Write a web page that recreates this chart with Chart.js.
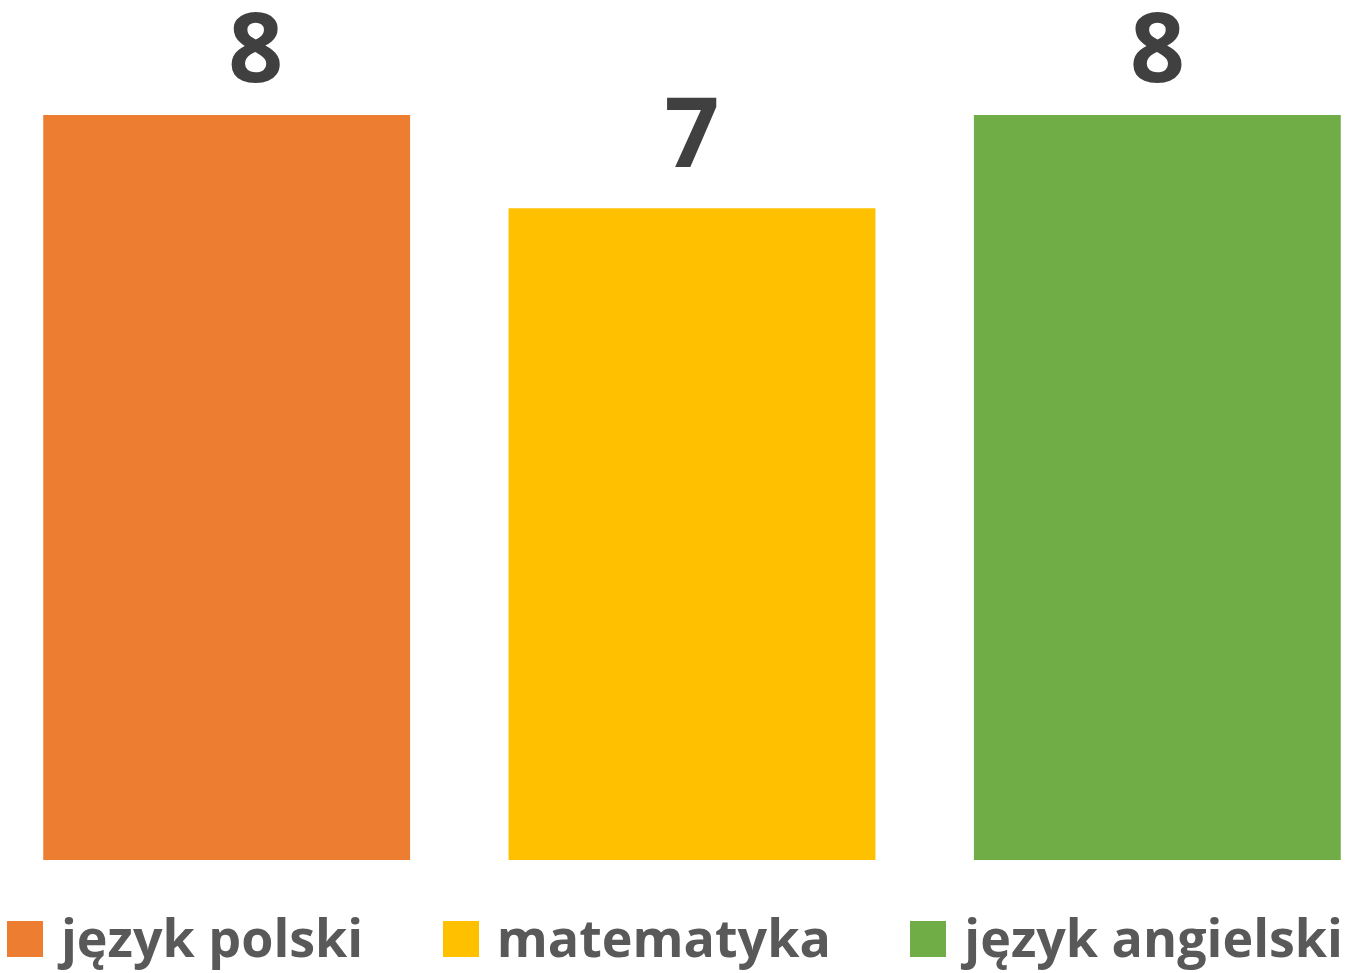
<!DOCTYPE html>
<html>
<head>
<meta charset="utf-8">
<script src="https://cdn.jsdelivr.net/npm/chart.js@4"></script>
<style>
  html, body { margin: 0; padding: 0; background: #fff; overflow: hidden; }
  #wrap { position: relative; width: 1358px; height: 973px; overflow: hidden; }
  #chart { position: absolute; left: -6px; top: 0; }
  #legend {
    position: absolute; left: 7px; right: 15px; top: 921px; height: 36px;
    display: flex; justify-content: space-between; align-items: center;
    font-family: "Open Sans", sans-serif; font-weight: 700; font-size: 52px;
    color: #595959;
  }
  #legend .item { display: flex; align-items: center; height: 36px; }
  #legend .box { width: 36px; height: 36px; margin-right: 18px; }
  #legend .txt { line-height: 36px; position: relative; top: -2px; white-space: nowrap; }
</style>
</head>
<body>
<div id="wrap">
  <!-- plot area runs a little past both page edges, like the cropped original -->
  <canvas id="chart" width="1396" height="973"></canvas>
  <div id="legend"></div>
</div>
<script>
const subjects = ["język polski", "matematyka", "język angielski"];
const scores = [8, 7, 8];
const colors = ["#ED7D31", "#FFC000", "#70AD47"];

// label x nudges (first label sits off-centre in the original)
const labelShift = [29, 0, 0];

const valueLabels = {
  id: "valueLabels",
  afterDatasetsDraw(chart) {
    const ctx = chart.ctx;
    const meta = chart.getDatasetMeta(0);
    ctx.save();
    ctx.font = "bold 96px 'Open Sans'";
    ctx.fillStyle = "#404040";
    ctx.textAlign = "center";
    ctx.textBaseline = "alphabetic";
    meta.data.forEach((bar, i) => {
      const y = Math.max(bar.y - 41, chart.chartArea.top - 33);
      ctx.fillText(String(scores[i]), bar.x + labelShift[i], y);
    });
    ctx.restore();
  },
};

new Chart(document.getElementById("chart"), {
  type: "bar",
  data: {
    labels: subjects,
    datasets: [
      {
        data: scores,
        backgroundColor: colors,
        borderWidth: 0,
        categoryPercentage: 1,
        barPercentage: 0.7884,
      },
    ],
  },
  options: {
    responsive: false,
    animation: false,
    layout: { padding: { top: 115, bottom: 113, left: 0, right: 0 } },
    plugins: { legend: { display: false }, tooltip: { enabled: false } },
    scales: {
      x: { display: false },
      y: { display: false, min: 0, max: 8 },
    },
  },
  plugins: [valueLabels],
});

const legend = document.getElementById("legend");
subjects.forEach((name, i) => {
  const item = document.createElement("div");
  item.className = "item";
  item.innerHTML = '<span class="box" style="background:' + colors[i] + '"></span><span class="txt">' + name + "</span>";
  legend.appendChild(item);
});
</script>
</body>
</html>
